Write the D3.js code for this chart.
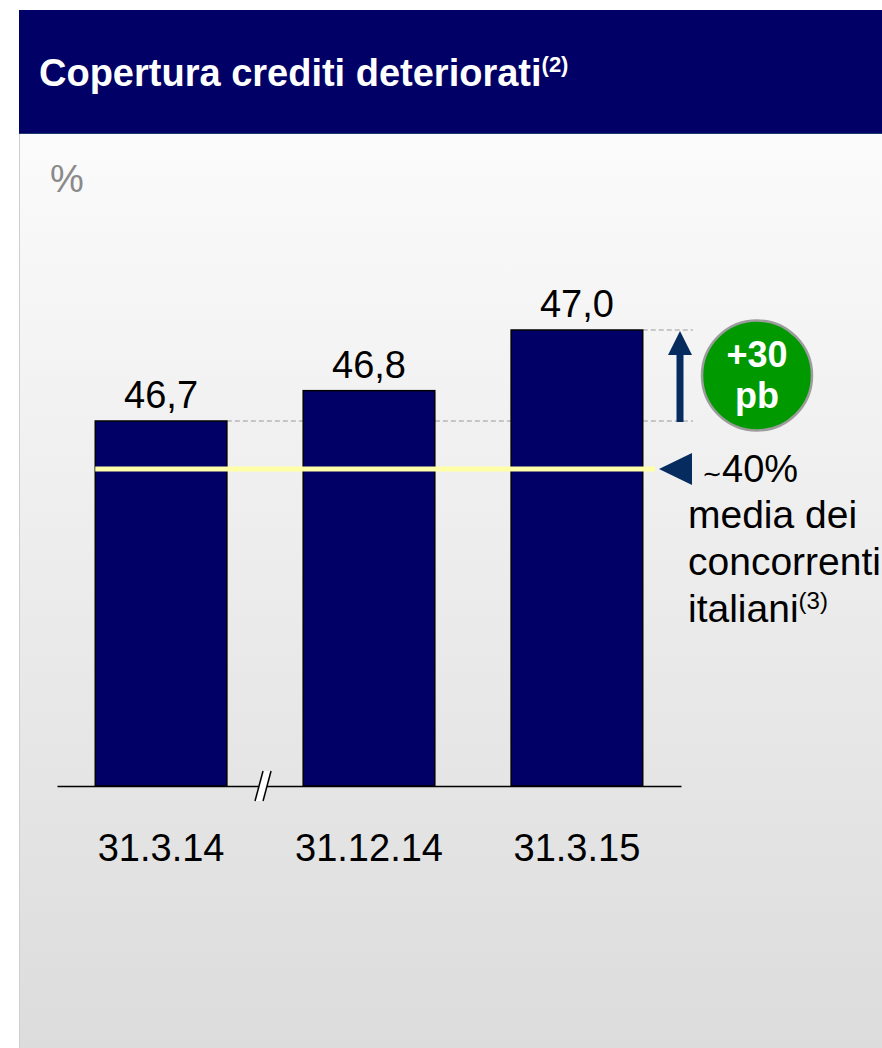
<!DOCTYPE html>
<html>
<head>
<meta charset="utf-8">
<script src="https://cdn.jsdelivr.net/npm/d3@7"></script>
<style>
  html, body { margin: 0; padding: 0; background: #ffffff; }
  svg { display: block; font-family: "Liberation Sans", Arial, sans-serif; }
</style>
</head>
<body>
<svg id="chart" width="882" height="1048"></svg>
<script>
// Coverage ratio of impaired loans, %
const categories = ["31.3.14", "31.12.14", "31.3.15"];
const coverage = [46.7, 46.8, 47.0];
const peerAverage = 40;
const titleText = "Copertura crediti deteriorati";
const titleNote = "(2)";
const unitText = "%";
const peerLines = ["media dei", "concorrenti", "italiani"];
const peerNote = "(3)";
const deltaUnit = "pb";

const W = 882, H = 1048;
const svg = d3.select("#chart");
const FONT_BIG = 38;

// Background gradient of the panel
const defs = svg.append("defs");
const grad = defs.append("linearGradient")
  .attr("id", "panelGrad").attr("x1", 0).attr("y1", 0).attr("x2", 0).attr("y2", 1);
grad.append("stop").attr("offset", "0%").attr("stop-color", "#fbfbfb");
grad.append("stop").attr("offset", "100%").attr("stop-color", "#dcdcdc");

const panel = { x: 19, y: 134, headerTop: 10 };
svg.append("rect").attr("x", panel.x).attr("y", panel.y)
  .attr("width", W - panel.x).attr("height", H - panel.y)
  .attr("fill", "url(#panelGrad)");
svg.append("line").attr("x1", panel.x + 0.5).attr("x2", panel.x + 0.5)
  .attr("y1", panel.y).attr("y2", H).attr("stroke", "#d0d0d0").attr("stroke-width", 1);

// Header band
svg.append("rect").attr("x", panel.x).attr("y", panel.headerTop)
  .attr("width", W - panel.x).attr("height", panel.y - panel.headerTop)
  .attr("fill", "#000066");
svg.append("line").attr("x1", panel.x).attr("x2", W)
  .attr("y1", panel.y - 0.5).attr("y2", panel.y - 0.5)
  .attr("stroke", "#1a3a6e").attr("stroke-width", 1);

const title = svg.append("text").attr("x", 39).attr("y", 86)
  .attr("fill", "#ffffff").attr("font-weight", "bold").attr("font-size", 38);
title.append("tspan").text(titleText);
title.append("tspan").attr("font-size", 22).attr("dy", -14).text(titleNote);

svg.append("text").attr("x", 50).attr("y", 192)
  .attr("fill", "#8a8a8a").attr("font-size", 38).text(unitText);

// Scales: band for dates, broken linear axis for the percentage
const xScale = d3.scaleBand().domain(categories)
  .range([57, 681]).paddingInner(0.367).paddingOuter(0.184);
const baseY = 786;
const yScale = d3.scaleLinear()
  .domain([0, peerAverage, 46.7, 47.0])
  .range([baseY, 469, 421, 330]);

const fmt = d3.formatLocale({ decimal: ",", thousands: ".", grouping: [3], currency: ["", "€"] }).format(".1f");

const annotX = xScale.range()[1] - 1;     // arrow column
const dashEnd = annotX + 13;

// Dashed reference lines at first and last value (behind the bars)
const first = coverage[0], last = coverage[coverage.length - 1];
const refs = [
  { v: first, x: xScale(categories[0]) + xScale.bandwidth() },
  { v: last, x: xScale(categories[categories.length - 1]) + xScale.bandwidth() }
];
svg.append("g").selectAll("line").data(refs).join("line")
  .attr("x1", d => d.x).attr("x2", dashEnd)
  .attr("y1", d => yScale(d.v)).attr("y2", d => yScale(d.v))
  .attr("stroke", "#9a9a9a").attr("stroke-width", 1).attr("stroke-dasharray", "5,3");

// Bars
svg.append("g").selectAll("rect").data(coverage).join("rect")
  .attr("x", (d, i) => xScale(categories[i]))
  .attr("y", d => yScale(d))
  .attr("width", xScale.bandwidth())
  .attr("height", d => baseY - yScale(d))
  .attr("fill", "#000066").attr("stroke", "#000000").attr("stroke-width", 1.5);

// Value labels
svg.append("g").selectAll("text").data(coverage).join("text")
  .attr("x", (d, i) => xScale(categories[i]) + xScale.bandwidth() / 2)
  .attr("y", d => yScale(d) - 13)
  .attr("text-anchor", "middle").attr("font-size", FONT_BIG).attr("fill", "#000")
  .text(d => fmt(d));

// Peer average line (drawn over the bars)
const peerY = yScale(peerAverage);
svg.append("line")
  .attr("x1", xScale(categories[0])).attr("x2", annotX - 25)
  .attr("y1", peerY).attr("y2", peerY)
  .attr("stroke", "#ffffa8").attr("stroke-width", 5);

// Category axis
const axis = d3.axisBottom(xScale).tickSize(0).tickSizeOuter(0).tickPadding(48);
const gAxis = svg.append("g").attr("transform", `translate(0,${baseY})`).call(axis);
gAxis.select(".domain").attr("stroke", "#000").attr("stroke-width", 1.5);
gAxis.selectAll(".tick text").attr("font-size", FONT_BIG).attr("fill", "#000")
  .attr("font-family", "\"Liberation Sans\", Arial, sans-serif");

// Axis break mark between the first two dates
const bx = (xScale(categories[0]) + xScale.bandwidth() + xScale(categories[1])) / 2;
svg.append("polygon")
  .attr("points", [[bx - 10, baseY + 15], [bx - 2, baseY - 15], [bx + 6, baseY - 15], [bx - 2, baseY + 15]].map(p => p.join(",")).join(" "))
  .attr("fill", "#ffffff").attr("stroke", "none");
svg.append("g").selectAll("line").data([-10, -2]).join("line")
  .attr("x1", d => bx + d).attr("y1", baseY + 15)
  .attr("x2", d => bx + d + 8).attr("y2", baseY - 15)
  .attr("stroke", "#000").attr("stroke-width", 1.5);

// Increase arrow between first and last value
const arrowCol = "#062c5f";
const yFrom = yScale(first), yTo = yScale(last);
svg.append("line").attr("x1", annotX).attr("x2", annotX)
  .attr("y1", yFrom + 1).attr("y2", yTo + 20)
  .attr("stroke", arrowCol).attr("stroke-width", 7);
svg.append("polygon")
  .attr("points", [[annotX, yTo + 1], [annotX - 12, yTo + 25], [annotX + 12, yTo + 25]].map(p => p.join(",")).join(" "))
  .attr("fill", arrowCol);

// Delta badge
const deltaBp = Math.round((last - first) * 100);
const cx = annotX + 77, cy = (yFrom + yTo) / 2;
svg.append("circle").attr("cx", cx).attr("cy", cy).attr("r", 55)
  .attr("fill", "#009900").attr("stroke", "#9c9c9c").attr("stroke-width", 2.5);
svg.append("text").attr("x", cx).attr("y", cy - 9).attr("text-anchor", "middle")
  .attr("font-weight", "bold").attr("font-size", 36).attr("fill", "#fff")
  .text("+" + deltaBp);
svg.append("text").attr("x", cx).attr("y", cy + 32).attr("text-anchor", "middle")
  .attr("font-weight", "bold").attr("font-size", 36).attr("fill", "#fff")
  .text(deltaUnit);

// Peer average marker and label
svg.append("polygon")
  .attr("points", [[annotX - 21, peerY], [annotX + 12, peerY - 16], [annotX + 12, peerY + 16]].map(p => p.join(",")).join(" "))
  .attr("fill", arrowCol);
const peerHead = svg.append("text").attr("x", annotX + 22).attr("y", peerY + 13)
  .attr("font-size", 38).attr("fill", "#000");
peerHead.append("tspan").attr("font-size", 24).text("∼");
peerHead.append("tspan").text(peerAverage + "%");

const peerText = svg.append("g");
peerLines.forEach((line, i) => {
  const t = peerText.append("text").attr("x", annotX + 8).attr("y", peerY + 59 + i * 47)
    .attr("font-size", 39).attr("fill", "#000");
  t.append("tspan").text(line);
  if (i === peerLines.length - 1) {
    t.append("tspan").attr("font-size", 24).attr("dy", -13).text(peerNote);
  }
});
</script>
</body>
</html>
